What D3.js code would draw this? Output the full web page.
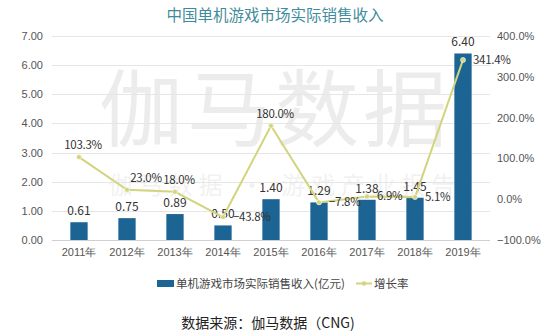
<!DOCTYPE html>
<html><head><meta charset="utf-8">
<script src="https://cdn.jsdelivr.net/npm/d3@7"></script>
<style>
body{margin:0;background:#fff;}
svg{display:block;font-family:"Noto Sans CJK SC","Noto Sans",sans-serif;}
</style></head>
<body>
<svg id="c" width="550" height="336"></svg>
<script>
const categories = ["2011年","2012年","2013年","2014年","2015年","2016年","2017年","2018年","2019年"];
const revenue = [0.61,0.75,0.89,0.50,1.40,1.29,1.38,1.45,6.40];
const growth = [103.3,23.0,18.0,-43.8,180.0,-7.8,6.9,5.1,341.4];
const leftTicks = [0,1,2,3,4,5,6,7];
const rightTicks = [-100,0,100,200,300,400];
const title = "中国单机游戏市场实际销售收入";
const seriesNames = ["单机游戏市场实际销售收入(亿元)","增长率"];
const source = "数据来源：伽马数据（CNG)";

// label placement (style)
const growthLabelPos = ["above","aboveR","above","right","above","right","right","right","right"];

const svg = d3.select("#c");
const L = 55, R = 487, T = 36, B = 240;
const x = d3.scaleBand().domain(categories).range([L,R]).paddingInner(0.64).paddingOuter(0.32);
const yL = d3.scaleLinear().domain([0,7]).range([B,T]);
const yR = d3.scaleLinear().domain([-100,400]).range([B,T]);
const barColor = "#1b6494", lineColor = "#d3d47e";

// watermark
svg.append("text").attr("x",275).attr("y",140).attr("text-anchor","middle")
  .attr("font-size",84).attr("fill","#000").attr("opacity",0.07).attr("letter-spacing",4).text("伽马数据");
svg.append("text").attr("x",285).attr("y",194).attr("text-anchor","middle")
  .attr("font-size",24).attr("fill","#000").attr("opacity",0.05).attr("letter-spacing",6).text("伽马数据 · 游戏产业报告");

// title
svg.append("text").attr("x",275).attr("y",21).attr("text-anchor","middle")
  .attr("font-size",15.5).attr("fill","#3f8c9c").text(title);

// grid
svg.append("g").selectAll("line").data(leftTicks).join("line")
  .attr("x1",52).attr("x2",490).attr("y1",d=>Math.round(yL(d))+0.5).attr("y2",d=>Math.round(yL(d))+0.5)
  .attr("stroke",d=>d===0?"#d0d0d0":"#e6e6e6").attr("stroke-width",1);

// left axis
const axL = svg.append("g").attr("transform",`translate(43,0)`)
  .call(d3.axisLeft(yL).tickValues(leftTicks).tickFormat(d3.format(".2f")).tickSize(0).tickPadding(0));
axL.select(".domain").remove();
axL.selectAll("text").attr("font-size",11).attr("fill","#555").attr("font-family","inherit");

// right axis
const axR = svg.append("g").attr("transform",`translate(497,0)`)
  .call(d3.axisRight(yR).tickValues(rightTicks).tickFormat(d=>d3.format(".1f")(d)+"%").tickSize(0).tickPadding(0));
axR.select(".domain").remove();
axR.selectAll("text").attr("font-size",11).attr("fill","#555").attr("font-family","inherit");

// x axis
const axX = svg.append("g").attr("transform",`translate(0,${B})`)
  .call(d3.axisBottom(x).tickSize(0).tickPadding(8));
axX.select(".domain").remove();
axX.selectAll("text").attr("font-size",11).attr("fill","#555").attr("font-family","inherit");

// bars
svg.append("g").selectAll("rect").data(revenue).join("rect")
  .attr("x",(d,i)=>x(categories[i])).attr("width",x.bandwidth())
  .attr("y",d=>yL(d)).attr("height",d=>B-yL(d)).attr("fill",barColor);
svg.append("g").selectAll("text").data(revenue).join("text")
  .attr("x",(d,i)=>x(categories[i])+x.bandwidth()/2).attr("y",d=>yL(d)-7)
  .attr("text-anchor","middle").attr("font-size",12).attr("fill","#333")
  .text(d=>d3.format(".2f")(d));

// line
const cx = i => x(categories[i])+x.bandwidth()/2;
svg.append("path").datum(growth)
  .attr("d",d3.line().x((d,i)=>cx(i)).y(d=>yR(d)))
  .attr("fill","none").attr("stroke",lineColor).attr("stroke-width",2);
svg.append("g").selectAll("circle").data(growth).join("circle")
  .attr("cx",(d,i)=>cx(i)).attr("cy",d=>yR(d)).attr("r",2.5)
  .attr("fill",lineColor).attr("stroke","#fff").attr("stroke-width",0.6);
svg.append("g").selectAll("text").data(growth).join("text")
  .attr("x",(d,i)=>{const p=growthLabelPos[i];return p==="right"?cx(i)+10:p==="aboveR"?cx(i)+19:cx(i)+4;})
  .attr("y",(d,i)=>{const p=growthLabelPos[i];return p==="right"?yR(d)+4:yR(d)-8;})
  .attr("text-anchor",(d,i)=>growthLabelPos[i]==="right"?"start":"middle")
  .attr("font-size",11.5).attr("fill","#333").attr("letter-spacing",-0.3)
  .text(d=>d3.format(".1f")(d)+"%");

// legend
const lg = svg.append("g");
lg.append("rect").attr("x",157).attr("y",280).attr("width",17).attr("height",7).attr("fill",barColor);
lg.append("text").attr("x",176).attr("y",287.5).attr("font-size",11.5).attr("fill","#444").text(seriesNames[0]);
lg.append("line").attr("x1",356).attr("x2",372).attr("y1",283.5).attr("y2",283.5).attr("stroke",lineColor).attr("stroke-width",2);
lg.append("circle").attr("cx",364).attr("cy",283.5).attr("r",2.2).attr("fill",lineColor);
lg.append("text").attr("x",374).attr("y",287.5).attr("font-size",11.5).attr("fill","#444").text(seriesNames[1]);

// source
svg.append("text").attr("x",268).attr("y",328).attr("text-anchor","middle")
  .attr("font-size",14).attr("fill","#222").text(source);
</script>
</body></html>
